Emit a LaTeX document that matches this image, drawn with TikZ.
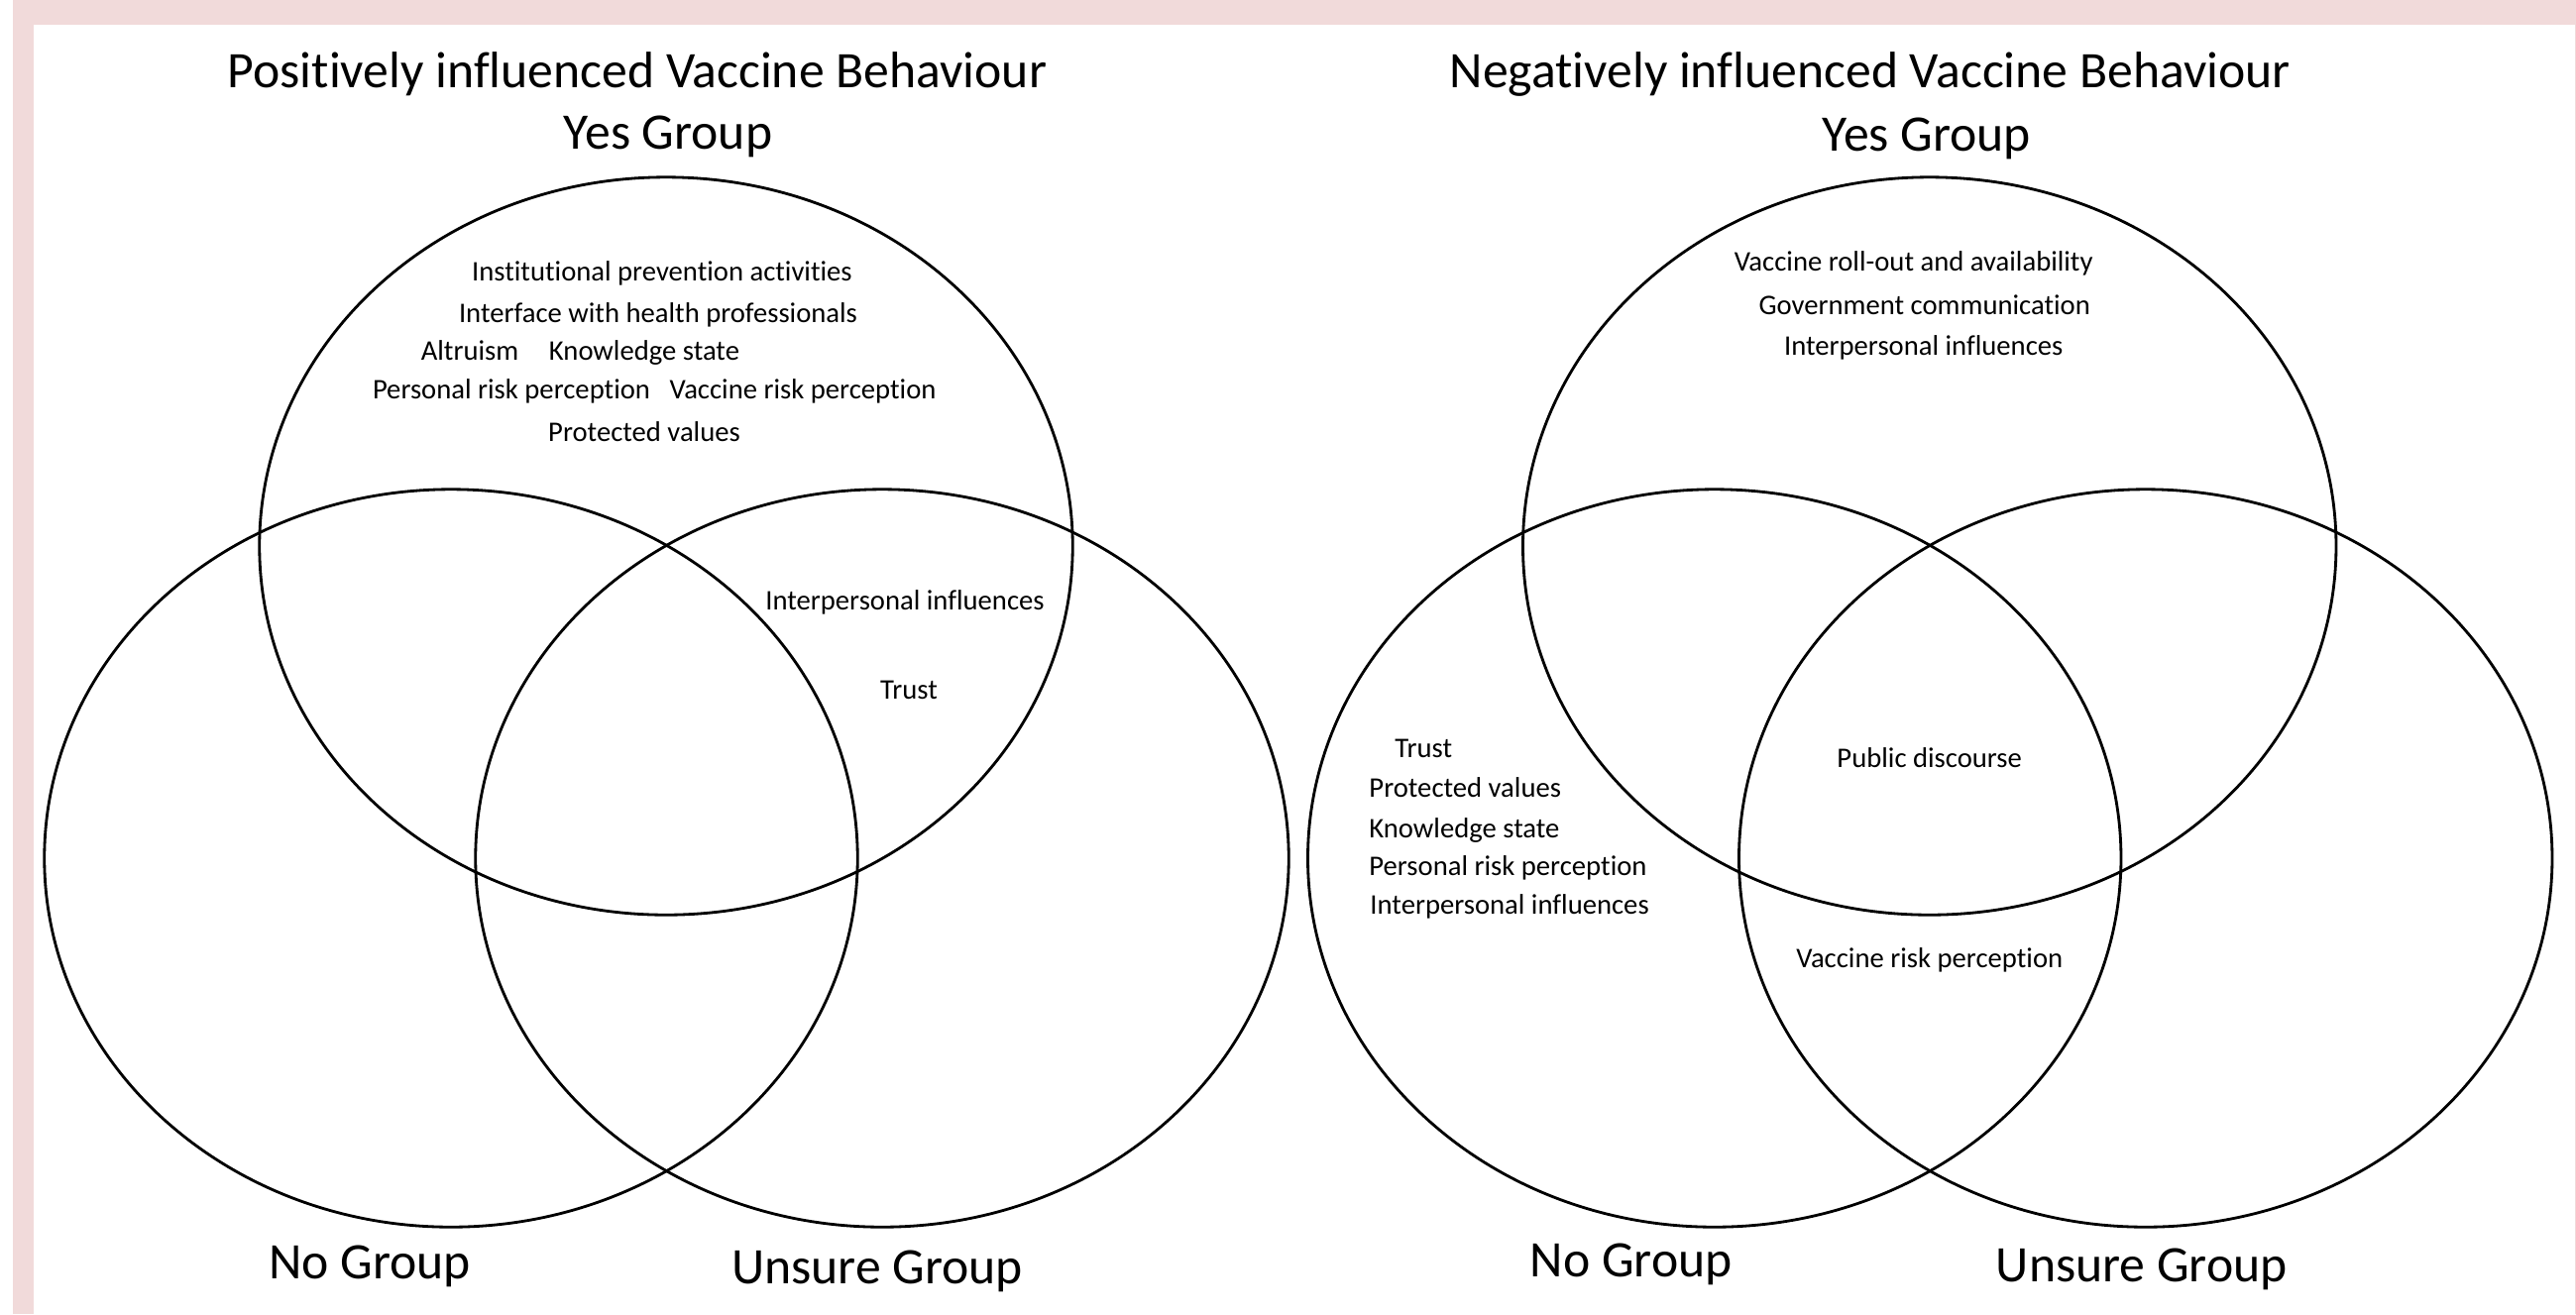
\documentclass[tikz,border=0pt]{standalone}
\usepackage{fontspec}
\setmainfont{Carlito}[Ligatures=NoCommon]
\usepackage{xcolor}
\definecolor{framepink}{RGB}{241,218,218}

\tikzset{
  ring/.style={line width=0.8pt},
  heading/.style={font=\fontsize{14.7}{17}\selectfont, inner sep=0pt, anchor=base},
  item/.style={font=\fontsize{8.15}{10}\selectfont, inner sep=0pt, anchor=base},
  itemleft/.style={item, anchor=base west}
}

\begin{document}
\begin{tikzpicture}[x=0.01cm,y=-0.01cm]
  % frame
  \fill[framepink] (13,0) rectangle (2599,1326);
  \fill[white] (34,25) rectangle (2598,1326);
  \useasboundingbox (0,0) rectangle (2599,1326);
  % left: positive influences
  \begin{scope}
    \draw[ring] (672,551) ellipse [x radius=4.10cm, y radius=3.72cm];
    \draw[ring] (455,866) ellipse [x radius=4.10cm, y radius=3.72cm];
    \draw[ring] (890,866) ellipse [x radius=4.10cm, y radius=3.72cm];
    \node[heading] (posTitle) at (643,88) {Positively influenced Vaccine Behaviour};
    \node[heading] (posYes) at (674,150) {Yes Group};
    \node[heading] (posNo) at (373,1290) {No Group};
    \node[heading] (posUnsure) at (885,1295) {Unsure Group};
    \node[item] (posInst) at (668,283) {Institutional prevention activities};
    \node[item] (posIface) at (664,325) {Interface with health professionals};
    \node[item] (posAltr) at (474,363) {Altruism};
    \node[item] (posKnow) at (650,363) {Knowledge state};
    \node[item] (posPers) at (516,402) {Personal risk perception};
    \node[item] (posVacc) at (810,402) {Vaccine risk perception};
    \node[item] (posProt) at (650,445) {Protected values};
    \node[item] (posInter) at (913,615) {Interpersonal influences};
    \node[item] (posTrust) at (917,705) {Trust};
  \end{scope}
  % right: negative influences
  \begin{scope}[xshift=12.74cm]
    \draw[ring] (672,551) ellipse [x radius=4.10cm, y radius=3.72cm];
    \draw[ring] (455,866) ellipse [x radius=4.10cm, y radius=3.72cm];
    \draw[ring] (890,866) ellipse [x radius=4.10cm, y radius=3.72cm];
    \node[heading] (negTitle) at (612,88) {Negatively influenced Vaccine Behaviour};
    \node[heading] (negYes) at (669,152) {Yes Group};
    \node[heading] (negNo) at (371,1288) {No Group};
    \node[heading] (negUnsure) at (886,1293) {Unsure Group};
    \node[item] (negRoll) at (656,273) {Vaccine roll-out and availability};
    \node[item] (negGov) at (667,317) {Government communication};
    \node[item] (negInterYes) at (666,358) {Interpersonal influences};
    \node[itemleft] (negTrust) at (132,764) {Trust};
    \node[itemleft] (negProt) at (106,804) {Protected values};
    \node[itemleft] (negKnow) at (106,845) {Knowledge state};
    \node[itemleft] (negPers) at (106,883) {Personal risk perception};
    \node[itemleft] (negInterNo) at (107,922) {Interpersonal influences};
    \node[item] (negPublic) at (672,774) {Public discourse};
    \node[item] (negVacc) at (672,976) {Vaccine risk perception};
  \end{scope}
\end{tikzpicture}
\end{document}
